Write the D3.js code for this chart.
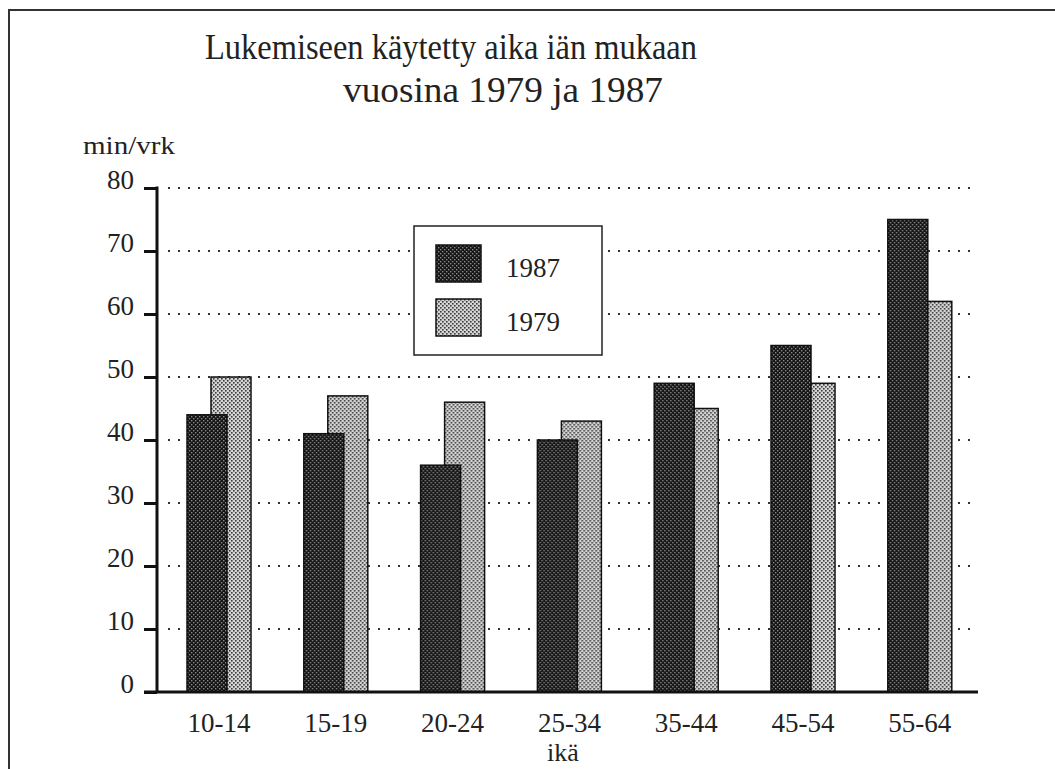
<!DOCTYPE html>
<html>
<head>
<meta charset="utf-8">
<script src="https://cdn.jsdelivr.net/npm/d3@7"></script>
<style>
	body { margin: 0; background: #fff; }
	svg { display: block; font-family: "Liberation Serif", "Times New Roman", serif; }
	svg text { font-family: "Liberation Serif", "Times New Roman", serif; }
</style>
</head>
<body>
<svg></svg>
<script>
var ageGroups = ['10-14', '15-19', '20-24', '25-34', '35-44', '45-54', '55-64']
var values1987 = [44, 41, 36, 40, 49, 55, 75]
var values1979 = [50, 47, 46, 43, 45, 49, 62]
var yTicks = [0, 10, 20, 30, 40, 50, 60, 70, 80]
var seriesNames = ['1987', '1979']

var width = 1055
var height = 769

var svg = d3.select('svg').attr('width', width).attr('height', height)

// halftone patterns like the scanned print
var defs = svg.append('defs')
function halftone(id, bg, dot, size) {
	var p = defs.append('pattern')
		.attr('id', id)
		.attr('patternUnits', 'userSpaceOnUse')
		.attr('width', 4).attr('height', 4)
	p.append('rect').attr('width', 4).attr('height', 4).attr('fill', bg)
	p.append('rect').attr('x', 0).attr('y', 0).attr('width', size).attr('height', size).attr('fill', dot)
	p.append('rect').attr('x', 2).attr('y', 2).attr('width', size).attr('height', size).attr('fill', dot)
}
halftone('dark', '#141414', '#8a8a8a', 1.4)
halftone('light', '#d4d4d4', '#3c3c3c', 1.6)
var fills = {'1987': 'url(#dark)', '1979': 'url(#light)'}

// frame of the scanned page
svg.append('path')
	.attr('d', 'M9,' + height + ' V10 H' + width)
	.attr('fill', 'none')
	.attr('stroke', '#333')
	.attr('stroke-width', 2)

// title
svg.append('text').attr('x', 205).attr('y', 59)
	.attr('font-size', 36).attr('fill', '#222')
	.attr('textLength', 492).attr('lengthAdjust', 'spacingAndGlyphs')
	.text('Lukemiseen käytetty aika iän mukaan')
svg.append('text').attr('x', 343).attr('y', 102)
	.attr('font-size', 36).attr('fill', '#222')
	.attr('textLength', 320).attr('lengthAdjust', 'spacingAndGlyphs')
	.text('vuosina 1979 ja 1987')

var y = d3.scaleLinear().domain([0, 80]).range([692, 188])
var x = d3.scaleBand().domain(ageGroups)
	.range([160.6, 978.2])
	.paddingInner(0.452)
	.paddingOuter(0.226)

var barW = 40
var offset = 24 // 1979 bar sits behind, shifted right

// dotted gridlines
svg.append('g').selectAll('line')
	.data(yTicks.filter(function(d) {return d > 0}))
	.enter().append('line')
	.attr('x1', 168).attr('x2', 978)
	.attr('y1', function(d) {return y(d)})
	.attr('y2', function(d) {return y(d)})
	.attr('stroke', '#333')
	.attr('stroke-width', 2)
	.attr('stroke-dasharray', '2,8')

// bars
var groups = svg.append('g').selectAll('g')
	.data(ageGroups)
	.enter().append('g')
	.attr('transform', function(d) {return 'translate(' + x(d) + ',0)'})

groups.append('rect')
	.attr('x', offset)
	.attr('y', function(d, i) {return y(values1979[i])})
	.attr('width', barW)
	.attr('height', function(d, i) {return y(0) - y(values1979[i])})
	.attr('fill', fills['1979'])
	.attr('stroke', '#111')
	.attr('stroke-width', 1.5)

groups.append('rect')
	.attr('x', 0)
	.attr('y', function(d, i) {return y(values1987[i])})
	.attr('width', barW)
	.attr('height', function(d, i) {return y(0) - y(values1987[i])})
	.attr('fill', fills['1987'])
	.attr('stroke', '#111')
	.attr('stroke-width', 1.5)

// y axis
var yAxis = svg.append('g')
	.attr('transform', 'translate(157,0)')
	.call(d3.axisLeft(y).tickValues(yTicks).tickSize(13).tickPadding(10))
yAxis.select('.domain').remove()
yAxis.selectAll('.tick line').attr('stroke', '#111').attr('stroke-width', 3)
yAxis.selectAll('.tick text')
	.style('font-size', '27px').attr('fill', '#222').attr('dy', 0)
svg.append('line')
	.attr('x1', 157).attr('x2', 157)
	.attr('y1', y(80) - 1.5).attr('y2', y(0))
	.attr('stroke', '#111').attr('stroke-width', 3)

svg.append('text').attr('x', 83).attr('y', 154)
	.attr('font-size', 25).attr('fill', '#222')
	.attr('textLength', 92).attr('lengthAdjust', 'spacingAndGlyphs')
	.text('min/vrk')

// x axis
var xAxis = svg.append('g')
	.attr('transform', 'translate(0,692)')
	.call(d3.axisBottom(x).tickSize(0).tickPadding(21))
xAxis.select('.domain').remove()
xAxis.selectAll('.tick text')
	.style('font-size', '27px').attr('fill', '#222')
svg.append('line')
	.attr('x1', 144).attr('x2', 978)
	.attr('y1', 692).attr('y2', 692)
	.attr('stroke', '#111').attr('stroke-width', 3)

svg.append('text').attr('x', 563).attr('y', 761)
	.attr('text-anchor', 'middle')
	.attr('font-size', 26).attr('fill', '#222')
	.text('ikä')

// legend
var legend = svg.append('g').attr('transform', 'translate(414,226)')
legend.append('rect')
	.attr('width', 188).attr('height', 129)
	.attr('fill', '#fff').attr('stroke', '#222').attr('stroke-width', 1.5)
var items = legend.selectAll('g.item')
	.data(seriesNames)
	.enter().append('g')
	.attr('class', 'item')
	.attr('transform', function(d, i) {return 'translate(22,' + (19 + i * 54) + ')'})
items.append('rect')
	.attr('width', 45).attr('height', 37)
	.attr('fill', function(d) {return fills[d]})
	.attr('stroke', '#111').attr('stroke-width', 1.5)
items.append('text')
	.attr('x', 70).attr('y', 32)
	.attr('font-size', 27).attr('fill', '#222')
	.text(function(d) {return d})
</script>
</body>
</html>
